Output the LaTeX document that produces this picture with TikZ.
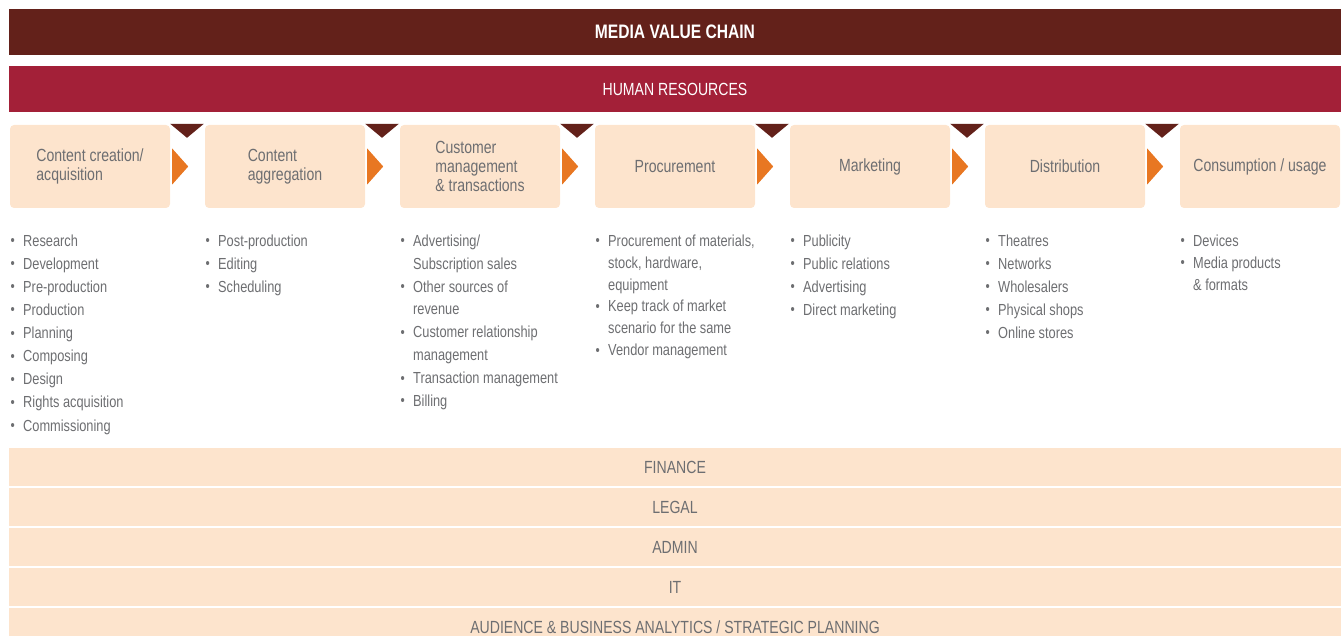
\documentclass[tikz,border=0pt]{standalone}
\usepackage{fontspec}
\setmainfont{Liberation Sans}[FakeStretch=0.8]
\usetikzlibrary{calc}
\definecolor{darkbar}{HTML}{63211A}
\definecolor{hrbar}{HTML}{A32038}
\definecolor{boxc}{HTML}{FDE4CD}
\definecolor{orangec}{HTML}{E87722}
\definecolor{txt}{HTML}{6D6E71}
\newcommand\bul{\makebox[13pt][l]{\hspace*{0.5pt}\raisebox{0.6pt}{\fontsize{15}{15}\selectfont\textbullet}}}
\newcommand\cont{\hspace*{13pt}}
\begin{document}
\begin{tikzpicture}[x=1pt,y=-1pt,
  topbar/.style={fill=darkbar,text=white,minimum width=1332pt,minimum height=46pt,inner sep=0pt,font=\fontsize{19.5}{21}\selectfont\bfseries},
  hrstyle/.style={fill=hrbar,text=white,minimum width=1332pt,minimum height=46pt,inner sep=0pt,font=\fontsize{17.6}{20}\selectfont},
  stage/.style={fill=boxc,rounded corners=4pt,minimum width=160pt,minimum height=83pt,inner sep=0pt,align=left,text=txt,font=\fontsize{17.6}{19}\selectfont},
  support/.style={fill=boxc,text=txt,minimum width=1332pt,minimum height=38pt,inner sep=0pt,text height=12.6pt,text depth=0pt,font=\fontsize{17.6}{20}\selectfont},
  items/.style={anchor=north west,inner sep=0pt,align=left,text=txt},
  flowarrow/.style={fill=orangec},
  notch/.style={fill=darkbar}
]
\useasboundingbox (0,0) rectangle (1341,636);
\clip (0,0) rectangle (1341,636);

\node[topbar] (title) at (675,32) {MEDIA VALUE CHAIN};
\node[hrstyle] (hr) at (675,89) {HUMAN RESOURCES};

\node[stage] (s1) at (90,166.5) {Content creation/\\acquisition};
\node[stage] (s2) at (285,166.5) {Content\\aggregation};
\node[stage] (s3) at (480,166.5) {Customer\\management\\\& transactions};
\node[stage] (s4) at (675,166.5) {Procurement};
\node[stage] (s5) at (870,166.5) {Marketing};
\node[stage] (s6) at (1065,166.5) {Distribution};
\node[stage] (s7) at (1260,166.5) {Consumption / usage};

\foreach \a/\b in {s1/s2,s2/s3,s3/s4,s4/s5,s5/s6,s6/s7}{
  \fill[flowarrow] ($(\a.east)+(2,-18)$) -- ($(\a.east)+(18,0)$) -- ($(\a.east)+(2,18)$) -- cycle;
  \fill[notch] ($(\a.north east)+(0,-1)$) -- ($(\b.north west)+(-1,-1)$) -- ($($(\a.north east)!0.5!(\b.north west)$)+(-0.5,13)$) -- cycle;
}

\node[items,font=\fontsize{16}{23.1}\selectfont] (l1) at (10,234.5) {\bul Research\\\bul Development\\\bul Pre-production\\\bul Production\\\bul Planning\\\bul Composing\\\bul Design\\\bul Rights acquisition\\\bul Commissioning};
\node[items,font=\fontsize{16}{23}\selectfont] (l2) at (205,234.5) {\bul Post-production\\\bul Editing\\\bul Scheduling};
\node[items,font=\fontsize{16}{22.9}\selectfont] (l3) at (400,234.5) {\bul Advertising/\\\cont Subscription sales\\\bul Other sources of\\\cont revenue\\\bul Customer relationship\\\cont management\\\bul Transaction management\\\bul Billing};
\node[items,font=\fontsize{16}{21.9}\selectfont] (l4) at (595,234.5) {\bul Procurement of materials,\\\cont stock, hardware,\\\cont equipment\\\bul Keep track of market\\\cont scenario for the same\\\bul Vendor management};
\node[items,font=\fontsize{16}{23}\selectfont] (l5) at (790,234.5) {\bul Publicity\\\bul Public relations\\\bul Advertising\\\bul Direct marketing};
\node[items,font=\fontsize{16}{23}\selectfont] (l6) at (985,234.5) {\bul Theatres\\\bul Networks\\\bul Wholesalers\\\bul Physical shops\\\bul Online stores};
\node[items,font=\fontsize{16}{22}\selectfont] (l7) at (1180,234.5) {\bul Devices\\\bul Media products\\\cont \& formats};

\node[support] (fin) at (675,467) {FINANCE};
\node[support] (legal) at (675,507) {LEGAL};
\node[support] (admin) at (675,547) {ADMIN};
\node[support] (it) at (675,587) {IT};
\node[support] (aud) at (675,627) {AUDIENCE \& BUSINESS ANALYTICS / STRATEGIC PLANNING};
\end{tikzpicture}
\end{document}
